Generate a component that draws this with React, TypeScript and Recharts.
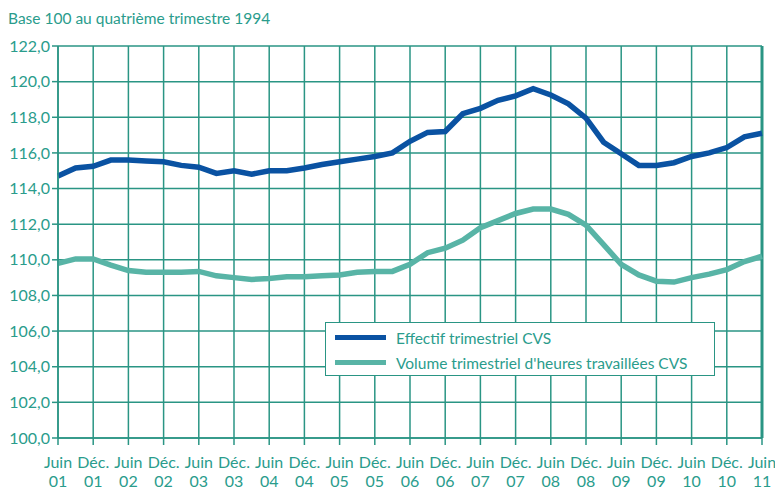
import React from "react";
import { LineChart, Line, XAxis, YAxis, CartesianGrid, ReferenceLine } from "recharts";

// quarterly points, Juin 01 -> Juin 11
const effectif = [
  114.7, 115.15, 115.25, 115.6, 115.6, 115.55, 115.5, 115.3, 115.2, 114.85,
  115.0, 114.8, 115.0, 115.0, 115.15, 115.35, 115.5, 115.65, 115.8, 116.0,
  116.65, 117.15, 117.2, 118.2, 118.5, 118.95, 119.2, 119.6, 119.25, 118.75,
  117.95, 116.6, 115.95, 115.3, 115.3, 115.45, 115.8, 116.0, 116.3, 116.9,
  117.1,
];

const volume = [
  109.8, 110.05, 110.05, 109.7, 109.4, 109.3, 109.3, 109.3, 109.35, 109.1,
  109.0, 108.9, 108.95, 109.05, 109.05, 109.1, 109.15, 109.3, 109.35, 109.35,
  109.75, 110.4, 110.65, 111.1, 111.8, 112.2, 112.6, 112.85, 112.85, 112.55,
  111.95, 110.85, 109.75, 109.15, 108.8, 108.75, 109.0, 109.2, 109.45, 109.9,
  110.2,
];

const months = ["Juin", "Déc."];
const years = ["01", "01", "02", "02", "03", "03", "04", "04", "05", "05", "06", "06", "07", "07", "08", "08", "09", "09", "10", "10", "11"];
const yTicks = [100, 102, 104, 106, 108, 110, 112, 114, 116, 118, 120, 122];

const TEAL_TEXT = "#2a9c8c";
const GRID = "#2a9584";
const BLUE = "#0a52a2";
const LIGHT = "#58b4a6";
const FONT = "Lato, 'Open Sans', sans-serif";

const data = effectif.map((v, i) => ({ i, effectif: v, volume: volume[i] }));
const xTicks = years.map((_, k) => k * 2);

function XTick({ x, y, payload }: any) {
  const k = payload.value / 2;
  return (
    <g>
      <text x={x} y={y + 21} textAnchor="middle" fill={TEAL_TEXT} fontSize={16} fontFamily={FONT}>
        {months[k % 2]}
      </text>
      <text x={x} y={y + 40} textAnchor="middle" fill={TEAL_TEXT} fontSize={16} fontFamily={FONT}>
        {years[k]}
      </text>
    </g>
  );
}

function LegendBox() {
  const items = [
    { label: "Effectif trimestriel CVS", color: BLUE },
    { label: "Volume trimestriel d'heures travaillées CVS", color: LIGHT },
  ];
  return (
    <div
      style={{
        position: "absolute",
        left: 325,
        top: 322,
        border: `1.5px solid ${GRID}`,
        background: "#fff",
        width: 390,
        height: 54,
        boxSizing: "border-box",
        padding: "2px 0 0 9px",
        fontFamily: FONT,
        fontSize: 15.5,
        color: TEAL_TEXT,
      }}
    >
      {items.map((it) => (
        <div key={it.label} style={{ display: "flex", alignItems: "center", height: 25 }}>
          <span style={{ display: "inline-block", width: 51, height: 5, background: it.color, marginRight: 10 }} />
          <span>{it.label}</span>
        </div>
      ))}
    </div>
  );
}

export default function App() {
  return (
    <div style={{ position: "absolute", left: 0, top: 0, width: 775, height: 490, background: "#fff" }}>
      <div
        style={{
          position: "absolute",
          left: 8,
          top: 9,
          fontFamily: FONT,
          fontSize: 15.5,
          color: TEAL_TEXT,
        }}
      >
        Base 100 au quatrième trimestre 1994
      </div>
      <LineChart width={775} height={490} data={data} margin={{ top: 46, right: 13, left: 0, bottom: 0 }}>
        <CartesianGrid stroke={GRID} strokeWidth={1.5} />
        <XAxis
          dataKey="i"
          type="number"
          domain={[0, 40]}
          ticks={xTicks}
          interval={0}
          height={52}
          tickSize={7}
          stroke={GRID}
          strokeWidth={1.5}
          tick={<XTick />}
        />
        <YAxis
          type="number"
          domain={[100, 122]}
          ticks={yTicks}
          interval={0}
          width={58}
          tickSize={6}
          stroke={GRID}
          strokeWidth={1.5}
          tick={{ fill: TEAL_TEXT, fontSize: 16, fontFamily: FONT }}
          tickFormatter={(v: number) => v.toFixed(1).replace(".", ",")}
        />
        <ReferenceLine x={40} stroke={GRID} strokeWidth={3} />
        <Line dataKey="effectif" stroke={BLUE} strokeWidth={5.5} dot={false} isAnimationActive={false} />
        <Line dataKey="volume" stroke={LIGHT} strokeWidth={5.5} dot={false} isAnimationActive={false} />
      </LineChart>
      <LegendBox />
    </div>
  );
}
